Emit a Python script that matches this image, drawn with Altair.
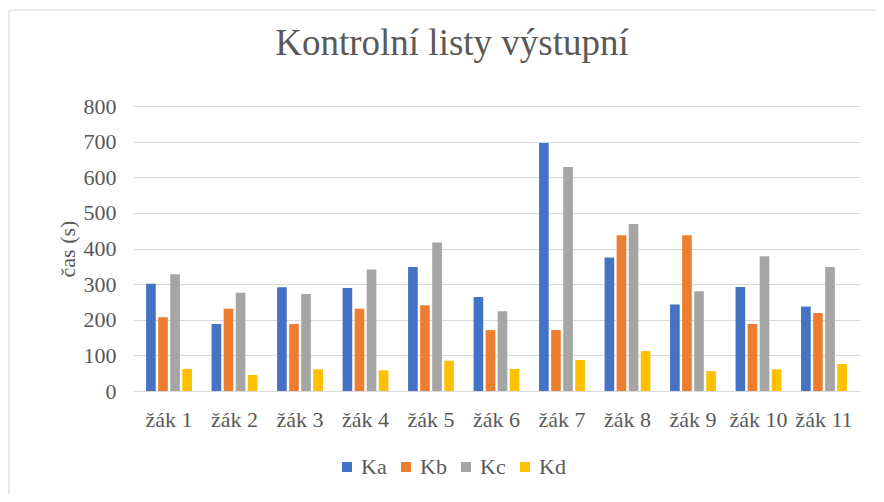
import altair as alt
import pandas as pd

students = ["žák 1", "žák 2", "žák 3", "žák 4", "žák 5", "žák 6",
            "žák 7", "žák 8", "žák 9", "žák 10", "žák 11"]
series = ["Ka", "Kb", "Kc", "Kd"]
ka = [301, 188, 291, 289, 348, 264, 696, 375, 243, 292, 237]
kb = [207, 231, 188, 231, 241, 171, 171, 437, 437, 188, 219]
kc = [328, 276, 272, 341, 417, 224, 629, 469, 280, 378, 348]
kd = [62, 45, 61, 58, 85, 62, 87, 112, 56, 61, 76]
colors = ["#4472C4", "#ED7D31", "#A5A5A5", "#FFC000"]
y_ticks = [0, 100, 200, 300, 400, 500, 600, 700, 800]
title_text = "Kontrolní listy výstupní"

rows = []
for s, vals in zip(series, [ka, kb, kc, kd]):
    for st, v in zip(students, vals):
        rows.append({"student": st, "series": s, "value": v})
df = pd.DataFrame(rows)

FONT = "Liberation Serif"
TXT = "#595959"

border = alt.Chart(alt.Data(values=[{}])).mark_rect(
    fill="transparent", stroke="#D9D9D9", strokeWidth=1.2, cornerRadius=3
).encode(
    x=alt.value(-124), x2=alt.value(790),
    y=alt.value(-96), y2=alt.value(430)
)

title = alt.Chart(alt.Data(values=[{}])).mark_text(
    text=title_text, font=FONT, fontSize=37, color=TXT,
    align="center", baseline="alphabetic"
).encode(x=alt.value(319), y=alt.value(-51))

bars = alt.Chart(df).mark_bar().encode(
    x=alt.X("student:N", sort=students,
            scale=alt.Scale(paddingInner=0.3, paddingOuter=0.2),
            axis=alt.Axis(title=None, labelAngle=0, ticks=False, domain=False,
                          labelPadding=18, labelFontSize=22, labelFont=FONT,
                          labelColor=TXT, grid=False)),
    xOffset=alt.XOffset("series:N", sort=series,
                        scale=alt.Scale(paddingInner=0.2, paddingOuter=0)),
    y=alt.Y("value:Q", scale=alt.Scale(domain=[0, 800]),
            axis=alt.Axis(values=y_ticks, title="čas (s)", ticks=False, domain=False,
                          labelPadding=17, labelFontSize=22, labelFont=FONT,
                          labelColor=TXT, gridColor="#D9D9D9", gridWidth=1,
                          titleFont=FONT, titleFontSize=22, titleFontWeight="normal",
                          titleColor=TXT, titlePadding=4)),
    color=alt.Color("series:N", sort=series,
                    scale=alt.Scale(domain=series, range=colors),
                    legend=alt.Legend(title=None, orient="none", legendX=203, legendY=350,
                                      direction="horizontal", symbolType="square",
                                      symbolSize=100, symbolStrokeWidth=0,
                                      labelFont=FONT, labelFontSize=22, labelColor=TXT,
                                      labelOffset=3, columnPadding=8, padding=0))
)

chart = alt.layer(border, title, bars).properties(
    width=727, height=285,
    autosize=alt.AutoSizeParams(type="none"),
    padding={"left": 125, "top": 98, "right": 16, "bottom": 103}
).configure(
    font=FONT
).configure_axis(
    labelFont=FONT, titleFont=FONT
).configure_legend(
    labelFont=FONT
).configure_view(stroke=None)

chart.save("out.html", embed_options={"renderer": "svg", "actions": False})
